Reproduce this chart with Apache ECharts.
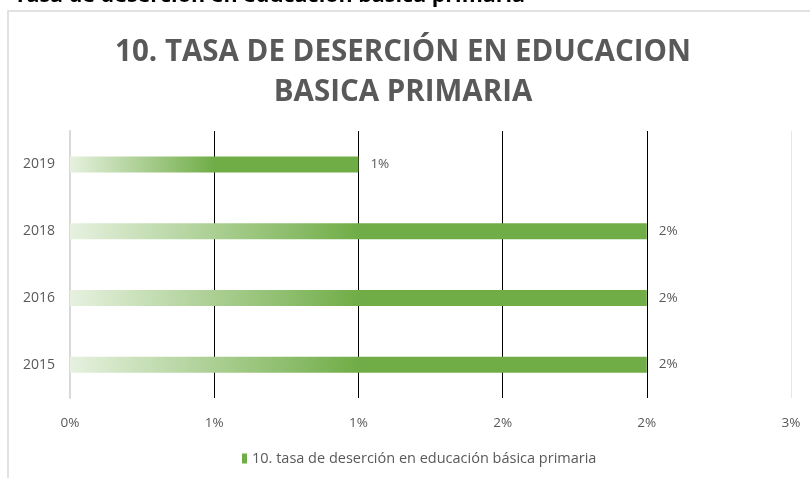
<!DOCTYPE html>
<html>
<head>
<meta charset="utf-8">
<script src="https://cdn.jsdelivr.net/npm/echarts@6/dist/echarts.min.js"></script>
<style>html,body{margin:0;padding:0;background:#fff;}#c{width:810px;height:478px;}</style>
</head>
<body>
<div id="c"></div>
<script>
const categories = ['2015', '2016', '2018', '2019'];
const values = [2, 2, 2, 1];
const seriesName = '10. tasa de deserción en educación básica primaria';
const titleText = '10. TASA DE DESERCIÓN EN EDUCACION\nBASICA PRIMARIA';
const headerText = 'Tasa de deserción en educación básica primaria';

const chart = echarts.init(document.getElementById('c'));
const font = '"Open Sans", sans-serif';
chart.setOption({
  backgroundColor: '#fff',
  animation: false,
  graphic: [
    {type: 'rect', shape: {x: 8, y: 11, width: 900, height: 600}, style: {fill: 'none', stroke: '#d9d9d9', lineWidth: 1.5}, z: 0},
    {type: 'text', x: 14, y: 7, style: {text: headerText, fontFamily: font, fontWeight: 'bold', fontSize: 21.5, fill: '#000', verticalAlign: 'bottom'}}
  ],
  title: {
    text: titleText,
    left: 398, top: 28, textAlign: 'center',
    textStyle: {fontFamily: font, fontWeight: 'bold', fontSize: 29.5, color: '#595959', lineHeight: 40}
  },
  legend: {
    bottom: 7, left: 237,
    itemWidth: 5, itemHeight: 10, itemGap: 5,
    icon: 'rect',
    textStyle: {fontFamily: font, fontSize: 14.5, color: '#595959'},
    data: [{name: seriesName, itemStyle: {color: '#70ad47'}}]
  },
  grid: {left: 70, right: 19, top: 131, bottom: 80},
  xAxis: {
    type: 'value', min: 0, max: 2.5, interval: 0.5,
    axisLine: {show: false}, axisTick: {show: false},
    axisLabel: {formatter: v => Math.round(v) + '%', fontFamily: font, fontSize: 13.5, color: '#595959', margin: 18},
    splitLine: {show: true, lineStyle: {color: ['#d9d9d9', '#000', '#000', '#000', '#000', '#e6e6e6'], width: 1}}
  },
  yAxis: {
    type: 'category', data: categories,
    axisLine: {show: true, lineStyle: {color: '#d9d9d9', width: 2}},
    axisTick: {show: false},
    axisLabel: {fontFamily: font, fontSize: 14, color: '#595959', margin: 15}
  },
  series: [{
    name: seriesName, type: 'bar', data: values, barWidth: 16,
    itemStyle: {color: new echarts.graphic.LinearGradient(0, 0, 1, 0, [
      {offset: 0, color: '#e6f1df'}, {offset: 0.5, color: '#70ad47'}, {offset: 1, color: '#70ad47'}
    ])},
    label: {show: true, position: 'right', distance: 12, formatter: '{c}%', fontFamily: font, fontSize: 13.5, color: '#595959'}
  }]
});
</script>
</body>
</html>
